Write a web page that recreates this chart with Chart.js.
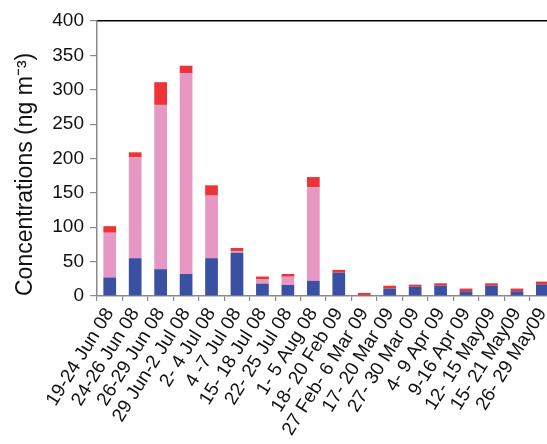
<!DOCTYPE html>
<html>
<head>
<meta charset="utf-8">
<script src="https://cdn.jsdelivr.net/npm/chart.js@4.4.1/dist/chart.umd.min.js"></script>
<style>
  html, body { margin: 0; padding: 0; background: #fff; overflow: hidden; }
  #wrap { width: 565px; height: 444px; }
</style>
</head>
<body>
<div id="wrap"><canvas id="chart-conc"></canvas></div>
<script>
// sampling periods
const periods = ['19-24 Jun 08', '24-26 Jun 08', '26-29 Jun 08', '29 Jun-2 Jul 08', '2- 4 Jul 08',
  '4 -7 Jul 08', '15- 18 Jul 08', '22- 25 Jul 08', '1- 5 Aug 08', '18- 20 Feb 09',
  '27 Feb- 6 Mar 09', '17- 20 Mar 09', '27- 30 Mar 09', '4- 9 Apr 09', '9-16 Apr 09',
  '12- 15 May09', '15- 21 May09', '26- 29 May09'];

// stacked parts (ng m-3)
const blueVals = [27, 55, 39, 32, 55, 63, 18, 16, 22, 34, 1, 11, 13.5, 15, 7, 15, 7, 17];
const pinkVals = [65, 147, 239, 292, 91, 2.5, 6, 12, 136, 0, 0, 0, 0, 0, 0, 0, 0, 0];
const redVals  = [9.6, 7, 33, 11, 15, 4.3, 4.3, 4, 15, 4, 3.5, 4, 3, 3.5, 3.8, 3.5, 3.8, 4];

const yTicks = [0, 400, 50]; // min, max, step

const font = 'Arial, "Liberation Sans", sans-serif';

new Chart(document.getElementById('chart-conc').getContext('2d'), {
  type: 'bar',
  data: {
    labels: periods,
    datasets: [
      { label: 'a', data: blueVals, backgroundColor: '#3a51a3' },
      { label: 'b', data: pinkVals, backgroundColor: '#e697c3' },
      { label: 'c', data: redVals,  backgroundColor: '#ee3339' }
    ]
  },
  options: {
    responsive: true,
    maintainAspectRatio: false,
    animation: false,
    categoryPercentage: 1,
    barPercentage: 0.5,
    layout: { padding: { top: 21, right: 8, left: 0, bottom: 0 } },
    plugins: { legend: { display: false }, tooltip: { enabled: false } },
    scales: {
      x: {
        stacked: true,
        grid: { display: true, drawOnChartArea: false, tickLength: 5, color: '#8a8a8a', lineWidth: 1.2 },
        border: { display: true, color: '#8a8a8a', width: 1.5 },
        ticks: {
          autoSkip: false, minRotation: 58, maxRotation: 58, padding: 3,
          color: '#111', font: { family: font, size: 19 }
        },
        afterFit: function(scale) { scale.height = 148; }
      },
      xTop: {
        position: 'top',
        grid: { display: false, drawTicks: false },
        border: { display: true, color: '#000', width: 1.6 },
        ticks: { display: false }
      },
      y: {
        stacked: true,
        min: yTicks[0],
        max: yTicks[1],
        grid: { display: true, drawOnChartArea: false, tickLength: 7, color: '#8a8a8a', lineWidth: 1.2 },
        border: { display: true, color: '#8a8a8a', width: 1.5 },
        ticks: { stepSize: yTicks[2], padding: 6, color: '#111', font: { family: font, size: 19 } },
        title: {
          display: true, text: 'Concentrations (ng m\u207B\u00B3)', align: 'start',
          color: '#111', font: { family: font, size: 23 }, padding: { top: 12, bottom: 0 }
        },
        afterFit: function(scale) { scale.width = 97; }
      }
    }
  }
});
</script>
</body>
</html>
